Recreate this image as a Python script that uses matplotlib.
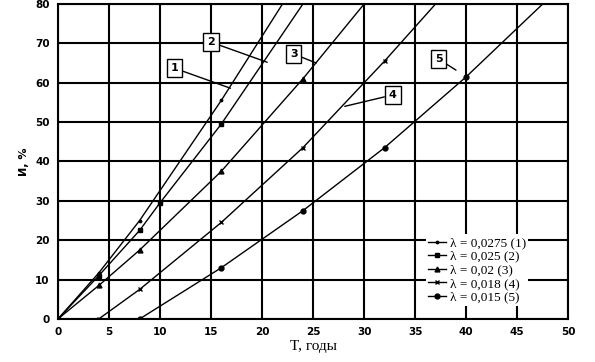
import numpy as np
import matplotlib
matplotlib.use("Agg")
import matplotlib.pyplot as plt

# curves: T (years) vs И (%)
t1 = [0, 4, 8, 16, 22]
u1 = [0, 11.7, 25, 55.5, 80]
t2 = [0, 4, 8, 10, 16, 24]
u2 = [0, 11, 22.5, 29.5, 49.5, 80]
t3 = [0, 4, 8, 16, 24, 30]
u3 = [0, 8.5, 17.5, 37.5, 61, 80]
t4 = [4, 8, 16, 24, 32, 37]
u4 = [0, 7.5, 24.5, 43.5, 65.5, 80]
t5 = [8, 16, 24, 32, 40, 47.5]
u5 = [0, 13, 27.5, 43.5, 61.5, 80]

labels = ["λ = 0,0275 (1)", "λ = 0,025 (2)", "λ = 0,02 (3)",
          "λ = 0,018 (4)", "λ = 0,015 (5)"]
markers = [".", "s", "^", "x", "o"]
tags = ["1", "2", "3", "4", "5"]
tag_pos = [(11.4, 63.7), (15.0, 70.3), (23.1, 67.3), (32.8, 56.9), (37.3, 66.0)]
tag_end = [(16.9, 58.6), (20.5, 65.2), (25.3, 65.0), (28.1, 54.0), (39.0, 63.2)]

fig = plt.figure(figsize=(5.95, 3.62), dpi=100)
ax = fig.add_axes([0.0975, 0.119, 0.8575, 0.87])

series = [(t1, u1), (t2, u2), (t3, u3), (t4, u4), (t5, u5)]
for (t, u), m, lab in zip(series, markers, labels):
    ax.plot(t, u, color="black", lw=1.0, marker=m, ms=3.5,
            markevery=list(range(len(t) - 1)), label=lab, clip_on=True)

for tg, p, e in zip(tags, tag_pos, tag_end):
    ax.annotate(tg, xy=e, xytext=p, ha="center", va="center", fontsize=8,
                fontweight="bold",
                bbox=dict(boxstyle="square,pad=0.35", fc="white", ec="black", lw=1),
                arrowprops=dict(arrowstyle="-", color="black", lw=1,
                                shrinkA=0, shrinkB=0))

ax.set_xlim(0, 50)
ax.set_ylim(0, 80)
ax.set_xticks(np.arange(0, 51, 5))
ax.set_yticks(np.arange(0, 81, 10))
ax.grid(True, color="black", lw=1.5)
ax.set_axisbelow(True)
for s in ax.spines.values():
    s.set_linewidth(1.5)
ax.tick_params(length=0, labelsize=7.5, pad=6)
for lb in ax.get_xticklabels() + ax.get_yticklabels():
    lb.set_fontweight("bold")

ax.set_xlabel("T, годы", family="Liberation Serif", fontsize=11, labelpad=2)
ax.set_ylabel("И, %", fontsize=8, fontweight="bold", labelpad=4)

leg = ax.legend(loc="lower right", bbox_to_anchor=(0.935, 0.02),
                prop=dict(family="Liberation Serif", size=9.5),
                frameon=True, fancybox=False, framealpha=1,
                handlelength=1.3, handletextpad=0.3, labelspacing=0.1,
                borderpad=0.2, markerscale=1.0)
leg.get_frame().set_linewidth(0)

fig.savefig("out.png", dpi=100)
